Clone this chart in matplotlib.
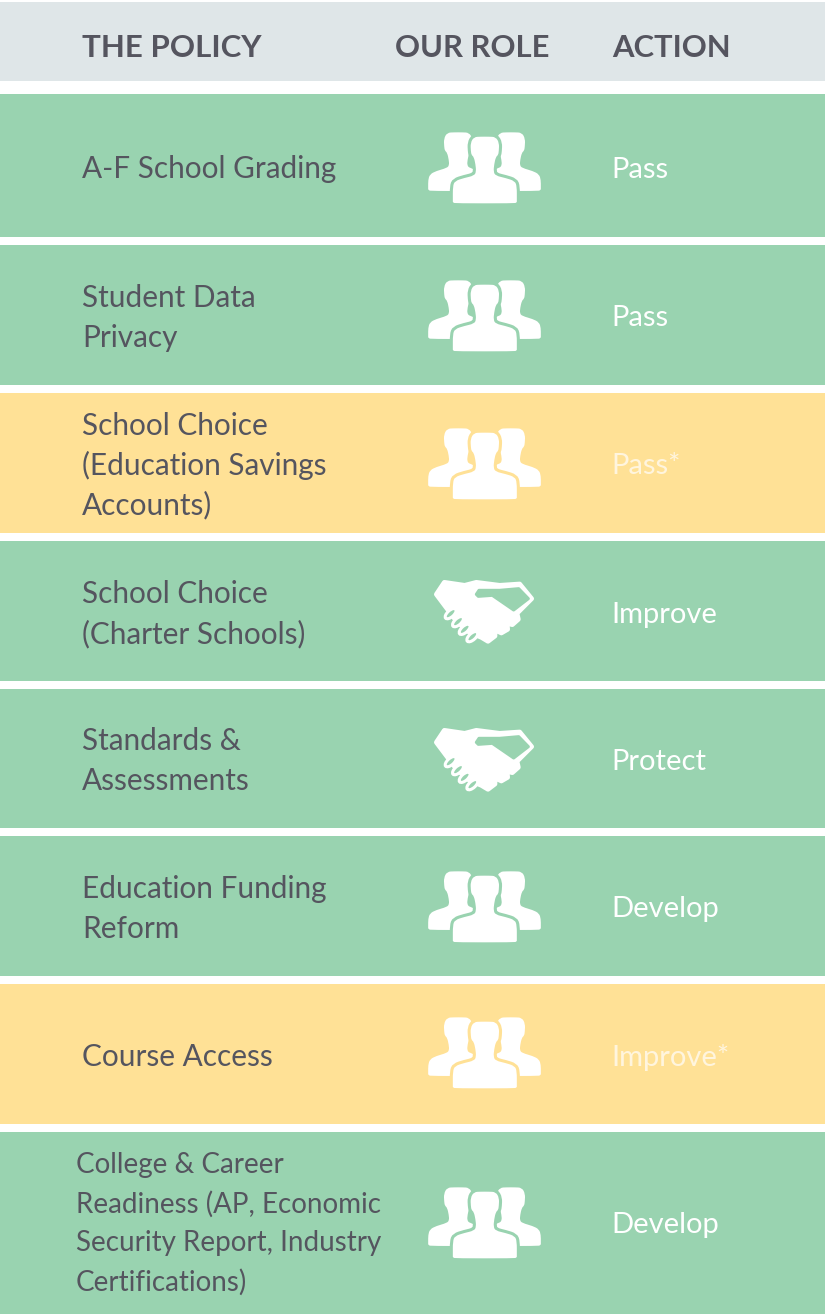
import matplotlib
matplotlib.use("Agg")
import matplotlib.pyplot as plt
from matplotlib.path import Path
from matplotlib.patches import PathPatch, Rectangle, Ellipse, Polygon
import numpy as np

headers = ["THE POLICY", "OUR ROLE", "ACTION"]
policies = ["A-F School Grading", "Student Data\nPrivacy",
            "School Choice\n(Education Savings\nAccounts)",
            "School Choice\n(Charter Schools)", "Standards &\nAssessments",
            "Education Funding\nReform", "Course Access",
            "College & Career\nReadiness (AP, Economic\nSecurity Report, Industry\nCertifications)"]
roles = ["people", "people", "people", "hands", "hands", "people", "people", "people"]
actions = ["Pass", "Pass", "Pass*", "Improve", "Protect", "Develop", "Improve*", "Develop"]
statuses = ["green", "green", "yellow", "green", "green", "green", "yellow", "green"]

row_top = [94, 245, 393, 541, 689, 836, 984, 1132]
row_bot = [237, 385, 533, 681, 828, 976, 1124, 1314]
text_x = [82, 82, 82, 82, 82, 82, 82, 76]
text_y = [168, 317, 465, 613, 760, 908, 1056, 1223]
text_size = [21.4, 21.4, 21.4, 21.4, 21.4, 21.4, 21.4, 20]
line_sp = [1.5, 1.5, 1.46, 1.5, 1.5, 1.5, 1.5, 1.58]
icon_y = [168, 316, 464, 611, 759, 907, 1053, 1223]

GREEN, YELLOW, HEAD, DARK = "#99D3B0", "#FFE196", "#DFE6E8", "#55555F"
fills = {"green": GREEN, "yellow": YELLOW}
act_col = {"green": "#FFFFFF", "yellow": "#FFF5DE"}

plt.rcParams["font.family"] = ["Lato", "DejaVu Sans"]
fig = plt.figure(figsize=(8.25, 13.14), dpi=100)
ax = fig.add_axes([0, 0, 1, 1])
ax.set_xlim(0, 825); ax.set_ylim(1314, 0); ax.axis("off")


def smooth(pts):
    pts = np.asarray(pts, float)
    mids = (pts + np.roll(pts, -1, axis=0)) / 2
    verts = [mids[-1]]; codes = [Path.MOVETO]
    for i in range(len(pts)):
        verts += [pts[i], mids[i]]
        codes += [Path.CURVE3, Path.CURVE3]
    return Path(verts, codes)


def mirror(half):
    return half + [(-x, y) for x, y in reversed(half)]


# outlines in 3x icon units, centre-line x = 0
head_half = [(12, -91), (33, -90), (43, -72), (42, -48), (40, -36), (33, -30), (28, -8), (26, 14), (32, 26)]
center_half = head_half + [(62, 33), (90, 42), (96, 58), (96, 100), (96, 107), (86, 109)]
side_half = head_half[:7] + [(27, 8), (34, 16), (66, 25), (85, 35), (90, 52), (90, 74), (90, 83), (78, 85)]
CENTER = mirror(center_half)
SIDE = mirror(side_half)
HAND_OUTER = [(50, 85), (74, 49), (135, 58), (170, 49), (240, 58), (300, 54), (336, 98), (292, 142), (296, 160),
              (278, 176), (262, 172), (264, 190), (245, 201), (226, 192), (226, 210), (205, 226), (185, 214),
              (150, 200), (110, 165), (80, 125)]
HAND_INNER = [(170, 85), (178, 73), (240, 73), (297, 68), (326, 98), (282, 132), (218, 88), (176, 91)]
RINGS = [(93, 143), (115, 167), (135, 190), (158, 212)]


def people(cx, cy, bg):
    for dx in (-79, 79):
        p = (np.array(SIDE) + [dx, -13]) / 3 + [cx, cy]
        ax.add_patch(PathPatch(smooth(p), fc="white", ec="none", zorder=3))
    p = (np.array(CENTER) + [1, 0]) / 3 + [cx, cy]
    ax.add_patch(PathPatch(smooth(p), fc=bg, ec=bg, lw=4.4, zorder=4))
    ax.add_patch(PathPatch(smooth(p), fc="white", ec="none", zorder=5))


def hands(cx, cy, bg):
    o = np.array([cx - 193 / 3, cy - 135 / 3])
    ax.add_patch(Polygon(np.array(HAND_OUTER) / 3 + o, fc="white", ec="white", lw=3.4, joinstyle="round", zorder=3))
    ax.add_patch(Polygon(np.array(HAND_INNER) / 3 + o, fc=bg, ec=bg, lw=2.2, joinstyle="round", zorder=4))
    for fx, fy in RINGS:
        ax.add_patch(Ellipse((o[0] + fx / 3, o[1] + fy / 3), 13.5, 6.5, angle=-42, fc=bg, ec="white", lw=2.2, zorder=5))


ax.add_patch(Rectangle((0, 2), 825, 79, fc=HEAD, ec="none"))
for x, h, fs in zip([82, 395, 612], headers, [22.5, 22.3, 22.3]):
    ax.text(x, 48, h, fontsize=fs, fontweight="bold", color=DARK, va="center", ha="left")

for i, pol in enumerate(policies):
    bg = fills[statuses[i]]
    ax.add_patch(Rectangle((0, row_top[i]), 825, row_bot[i] - row_top[i], fc=bg, ec="none"))
    ax.text(text_x[i], text_y[i] + 1, pol, fontsize=text_size[i], color=DARK, va="center", ha="left",
            linespacing=line_sp[i])
    ax.text(611.5, text_y[i] + 1.5, actions[i], fontsize=21, color=act_col[statuses[i]], va="center", ha="left")
    if roles[i] == "people":
        people(484.5, icon_y[i] - 1, bg)
    else:
        hands(484, icon_y[i], bg)

fig.savefig("out.png", dpi=100, facecolor="white")
